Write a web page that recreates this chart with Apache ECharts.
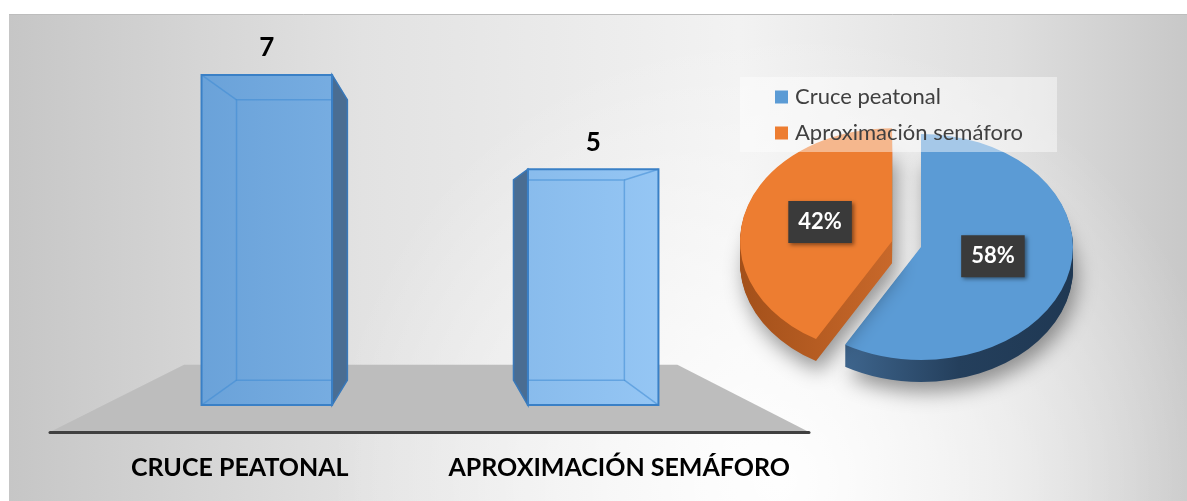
<!DOCTYPE html>
<html>
<head>
<meta charset="utf-8">
<script src="https://cdn.jsdelivr.net/npm/echarts@6/dist/echarts.min.js"></script>
<style>
  html, body { margin: 0; padding: 0; background: #fff; }
  #main { width: 1187px; height: 501px; }
</style>
</head>
<body>
<div id="main"></div>
<script>
var categories = ['Cruce peatonal', 'Aproximación semáforo'];
var counts = [7, 5];
var pieColors = ['#5b9bd5', '#ed7d31'];

var total = counts.reduce(function (a, b) { return a + b; }, 0);

var chart = echarts.init(document.getElementById('main'));

// ---------------- perspective of the bar part ----------------
var VP = [433, 240];          // vanishing point
var FRONT = 0.14, BACK = 0.27, FLOOR = 0.35;

function proj(p, s) {
    return [p[0] + s * (VP[0] - p[0]), p[1] + s * (VP[1] - p[1])];
}

function renderFloor(params, api) {
    var cs = params.coordSys;
    var fl = [cs.x, cs.y + cs.height], fr = [cs.x + cs.width, cs.y + cs.height];
    return {
        type: 'polygon',
        shape: { points: [fl, fr, proj(fr, FLOOR), proj(fl, FLOOR)] },
        style: { fill: '#bdbdbd' }
    };
}

var frontFill = {
    type: 'linear', x: 200, y: 0, x2: 660, y2: 0, global: true,
    colorStops: [{ offset: 0, color: '#6aa2d9' }, { offset: 1, color: '#95c6f4' }]
};
var edgeBack = { fill: 'none', stroke: 'rgba(62,138,212,0.55)', lineWidth: 1.5 };

function renderBar(params, api) {
    var i = api.value(0), v = api.value(1);
    var top = api.coord([i, v]), base = api.coord([i, 0]);
    var half = api.size([1, 0])[0] * 0.2;
    var c = [[top[0] - half, top[1]], [top[0] + half, top[1]],
             [top[0] + half, base[1]], [top[0] - half, base[1]]];
    var f = c.map(function (p) { return proj(p, FRONT); });
    var b = c.map(function (p) { return proj(p, BACK); });
    // the side turned to the vanishing point is the one we see
    var side = top[0] < VP[0] ? [f[1], b[1], b[2], f[2]] : [f[0], b[0], b[3], f[3]];
    var children = [
        { type: 'polygon', shape: { points: f }, style: { fill: frontFill } },
        { type: 'polygon', shape: { points: b }, style: edgeBack }
    ];
    for (var k = 0; k < 4; k++) {
        children.push({ type: 'line', shape: { x1: f[k][0], y1: f[k][1], x2: b[k][0], y2: b[k][1] }, style: edgeBack });
    }
    children.push({ type: 'polygon', shape: { points: side }, style: { fill: '#4a6d92', stroke: '#3a78b8', lineWidth: 1.5 } });
    children.push({ type: 'polygon', shape: { points: f }, style: { fill: 'none', stroke: '#3a80c6', lineWidth: 2 } });
    children.push({
        type: 'text', x: (f[0][0] + f[1][0]) / 2, y: f[0][1] - 27,
        style: { text: String(v), fill: '#000', font: 'bold 26px Lato', align: 'center', verticalAlign: 'middle' }
    });
    return { type: 'group', children: children };
}

// ---------------- 3d pie ----------------
var PIE = { cx: 921, cy: 247, rx: 152, ry: 113, depth: 22 };
var explode = [0, 30];
var sideFill = [
    { type: 'linear', x: 0, y: 0, x2: 1, y2: 0, colorStops: [{ offset: 0, color: '#3e658d' }, { offset: 0.5, color: '#243f5c' }, { offset: 1, color: '#1f3853' }] },
    { type: 'linear', x: 0, y: 0, x2: 1, y2: 0, colorStops: [{ offset: 0, color: '#a3501a' }, { offset: 1, color: '#c8682a' }] }
];

function renderSlice(k) {
    return function (params, api) {
        var v = api.value(0), s = api.value(1);
        var a0 = s / total * Math.PI * 2, a1 = (s + v) / total * Math.PI * 2, mid = (a0 + a1) / 2;
        var sy = PIE.ry / PIE.rx;
        var cx = PIE.cx + Math.sin(mid) * explode[k];
        var cy = PIE.cy - Math.cos(mid) * explode[k] * sy;
        var layers = [];
        for (var d = PIE.depth; d >= 0; d--) {
            var st = { fill: d ? sideFill[k] : pieColors[k] };
            if (d === PIE.depth) {
                st.shadowColor = 'rgba(0,0,0,0.4)';
                st.shadowBlur = 20;
                st.shadowOffsetX = 4;
                st.shadowOffsetY = 10;
            }
            layers.push({
                type: 'sector',
                shape: { cx: 0, cy: d / sy, r: PIE.rx, r0: 0, startAngle: a0 - Math.PI / 2, endAngle: a1 - Math.PI / 2, clockwise: true },
                style: st
            });
        }
        return {
            type: 'group',
            children: [
                { type: 'group', x: cx, y: cy, scaleY: sy, children: layers },
                {
                    type: 'text',
                    x: cx + Math.sin(mid) * PIE.rx * 0.49,
                    y: cy - Math.cos(mid) * PIE.ry * 0.49 - 5,
                    style: {
                        text: Math.round(v / total * 100) + '%', fill: '#fff', font: 'bold 22px Lato',
                        align: 'center', verticalAlign: 'middle',
                        backgroundColor: '#3a3a3a', padding: [10, 10, 10, 10],
                        shadowColor: 'rgba(0,0,0,0.45)', shadowBlur: 4, shadowOffsetX: 2, shadowOffsetY: 2
                    }
                }
            ]
        };
    };
}

function sliceSeries(k) {
    var start = 0;
    for (var j = 0; j < k; j++) start += counts[j];
    return {
        type: 'custom', name: categories[k], coordinateSystem: 'none', z: 3,
        itemStyle: { color: pieColors[k] },
        data: [[counts[k], start]],
        renderItem: renderSlice(k)
    };
}

var option = {
    animation: false,
    graphic: [
        {
            type: 'rect', z: -10, shape: { x: 9, y: 14, width: 1178, height: 487 },
            style: { fill: { type: 'linear', x: 9, y: 0, x2: 1187, y2: 0, global: true,
                colorStops: [{ offset: 0, color: '#c6c6c6' }, { offset: 0.3, color: '#e2e2e2' },
                             { offset: 0.62, color: '#f2f2f2' }, { offset: 0.85, color: '#dedede' },
                             { offset: 1, color: '#c8c8c8' }] } }
        },
        {
            type: 'rect', z: -9, shape: { x: 9, y: 14, width: 1178, height: 487 },
            style: { fill: { type: 'radial', x: 780, y: 480, r: 450, global: true,
                colorStops: [{ offset: 0, color: 'rgba(255,255,255,0.95)' }, { offset: 1, color: 'rgba(255,255,255,0)' }] } }
        },
        {
            type: 'line', z: -8, shape: { x1: 9, y1: 14.5, x2: 1187, y2: 14.5 },
            style: { stroke: '#bdbdbd', lineWidth: 1 }
        }
    ],
    grid: { left: 50, right: 378, top: 48, bottom: 69 },
    xAxis: {
        type: 'category', data: categories, z: 5,
        axisLine: { lineStyle: { color: '#404040', width: 3 } },
        axisTick: { show: false },
        axisLabel: {
            interval: 0, margin: 22, color: '#000', fontFamily: 'Lato', fontWeight: 'bold',
            fontSize: 25, lineHeight: 28,
            formatter: function (v) { return v.toUpperCase(); }
        }
    },
    yAxis: { type: 'value', min: 0, max: 7, show: false },
    legend: {
        data: categories, orient: 'vertical', left: 740, top: 77,
        icon: 'rect', itemWidth: 13, itemHeight: 13, itemGap: 14,
        padding: [9, 34, 8, 35],
        backgroundColor: 'rgba(255,255,255,0.45)',
        selectedMode: false,
        textStyle: { color: '#404040', fontFamily: 'Lato', fontSize: 22, lineHeight: 20, padding: [0, 0, 0, 2] }
    },
    series: [
        { type: 'custom', z: 1, silent: true, data: [[0, 0]], renderItem: renderFloor },
        { type: 'custom', z: 2, data: counts.map(function (v, i) { return [i, v]; }), renderItem: renderBar },
        sliceSeries(0),
        sliceSeries(1)
    ]
};
chart.setOption(option);
</script>
</body>
</html>
